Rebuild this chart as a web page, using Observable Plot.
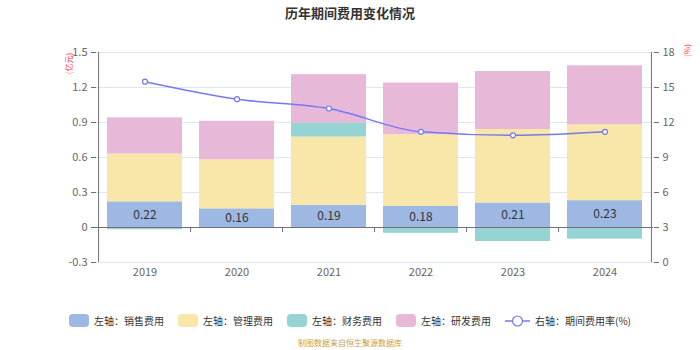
<!DOCTYPE html>
<html><head><meta charset="utf-8">
<script src="https://cdn.jsdelivr.net/npm/d3@7"></script>
<script src="https://cdn.jsdelivr.net/npm/@observablehq/plot@0.6"></script>
<style>
body{margin:0;background:#fff;font-family:"Noto Sans CJK SC","Noto Sans",sans-serif;}
#wrap{width:700px;height:350px;position:relative;overflow:hidden;}
#title{height:30px;line-height:25px;text-align:center;font-size:13px;font-weight:bold;color:#333;}
.unit{position:absolute;color:#f33;font-size:8px;transform:rotate(-90deg);transform-origin:center;white-space:nowrap;}
#legend{position:absolute;top:313px;left:0;width:700px;display:flex;justify-content:center;align-items:center;font-size:10px;color:#333;}
.item{display:flex;align-items:center;margin:0 7px;}
.sw{width:20px;height:13px;border-radius:4px;margin-right:5px;}
#caption{position:absolute;top:337px;left:0;width:700px;text-align:center;font-size:8px;color:#c9a046;}
</style></head>
<body>
<div id="wrap">
  <div id="title">历年期间费用变化情况</div>
  <div id="chart"></div>
  <div class="unit" id="uL" style="left:58px;top:58px;">(亿元)</div>
  <div class="unit" id="uR" style="left:680px;top:45px;">(%)</div>
  <div id="legend"></div>
  <div id="caption">制图数据来自恒生聚源数据库</div>
</div>
<script>
const years = ["2019","2020","2021","2022","2023","2024"];
const sales = [0.22, 0.16, 0.19, 0.18, 0.21, 0.23];
const admin = [0.41, 0.42, 0.585, 0.615, 0.63, 0.65];
const finance = [-0.02, -0.005, 0.12, -0.05, -0.12, -0.10];
const rnd = [0.31, 0.33, 0.415, 0.443, 0.497, 0.506];
const rate = [15.5, 14.0, 13.2, 11.2, 10.9, 11.2];
const seriesNames = ["左轴：销售费用","左轴：管理费用","左轴：财务费用","左轴：研发费用"];
const seriesColors = ["#9db8e2","#f8e7a8","#96d4d4","#e8b8d8"];
const lineName = "右轴：期间费用率(%)";
const lineColor = "#7379f2";
const leftTicks = [-0.3, 0, 0.3, 0.6, 0.9, 1.2, 1.5];
const rightTicks = [0, 3, 6, 9, 12, 15, 18];

// map right-axis value onto left scale: 0..18 -> -0.3..1.5
const r2l = r => -0.3 + r * (1.8 / 18);

const seriesArrays = [sales, admin, finance, rnd];
const bars = [];
years.forEach((y, i) => {
  seriesArrays.forEach((arr, s) => bars.push({year: y, series: seriesNames[s], value: arr[i]}));
});
const salesLabels = years.map((y, i) => ({year: y, value: sales[i]}));
const lineData = years.map((y, i) => ({year: y, v: r2l(rate[i])}));

const W = 700, H = 270, mL = 96, mR = 47, mT = 22, mB = 38;
const halfStep = (W - mL - mR) / years.length / 2;
const axisColor = "#6e7079";

const plot = Plot.plot({
  width: W, height: H,
  marginLeft: mL, marginRight: mR, marginTop: mT, marginBottom: mB,
  style: {fontFamily: '"Noto Sans CJK SC","Noto Sans",sans-serif', fontSize: "11px", color: "#666", background: "#fff"},
  x: {domain: years, paddingInner: 0.19, paddingOuter: 0.095, label: null},
  y: {domain: [-0.3, 1.5], label: null},
  color: {domain: seriesNames, range: seriesColors},
  marks: [
    Plot.gridY(leftTicks.filter(t => t !== 0), {stroke: "#e0e6f1", strokeOpacity: 1}),
    Plot.barY(bars, Plot.stackY({x: "year", y: "value", fill: "series", order: seriesNames})),
    Plot.text(salesLabels, {x: "year", y: d => d.value / 2, text: d => d.value.toFixed(2), fill: "#333", fontSize: 12}),
    Plot.ruleY([0], {stroke: axisColor}),
    Plot.ruleX(years.slice(1), {x: d => d, y1: 0, y2: -0.043, stroke: axisColor, dx: -halfStep}),
    Plot.ruleX([years[0]], {x: d => d, y1: -0.3, y2: 1.5, stroke: axisColor, dx: -halfStep}),
    Plot.ruleX([years[years.length - 1]], {x: d => d, y1: -0.3, y2: 1.5, stroke: axisColor, dx: halfStep}),
    Plot.line(lineData, {x: "year", y: "v", stroke: lineColor, strokeWidth: 1.5, curve: "monotone-x"}),
    Plot.dot(lineData, {x: "year", y: "v", r: 2.5, fill: "#fff", stroke: lineColor, strokeWidth: 1.2}),
    Plot.axisY(leftTicks, {anchor: "left", tickSize: 5, tickFormat: d => d === 0 ? "0" : d.toFixed(1), stroke: axisColor, fill: "#666", label: null, fontSize: 11}),
    Plot.axisY(rightTicks.map(r2l), {anchor: "right", tickSize: 5, tickFormat: d => String(Math.round((d + 0.3) * 10)), stroke: axisColor, fill: "#666", label: null, fontSize: 11}),
    Plot.axisX({tickSize: 0, fill: "#666", fontSize: 11, label: null, tickPadding: 6}),
    Plot.gridY([-0.3], {stroke: "#e0e6f1", strokeOpacity: 1})
  ]
});
document.getElementById("chart").appendChild(plot);

const lg = document.getElementById("legend");
seriesNames.forEach((n, i) => {
  const it = document.createElement("div"); it.className = "item";
  it.innerHTML = `<div class="sw" style="background:${seriesColors[i]}"></div><span>${n}</span>`;
  lg.appendChild(it);
});
const li = document.createElement("div"); li.className = "item";
li.innerHTML = `<svg width="25" height="14" style="margin-right:5px"><line x1="0" y1="7" x2="25" y2="7" stroke="${lineColor}" stroke-width="1.5"/><circle cx="12.5" cy="7" r="5" fill="#fff" stroke="${lineColor}" stroke-width="1.2"/></svg><span>${lineName}</span>`;
lg.appendChild(li);
</script>
</body></html>
